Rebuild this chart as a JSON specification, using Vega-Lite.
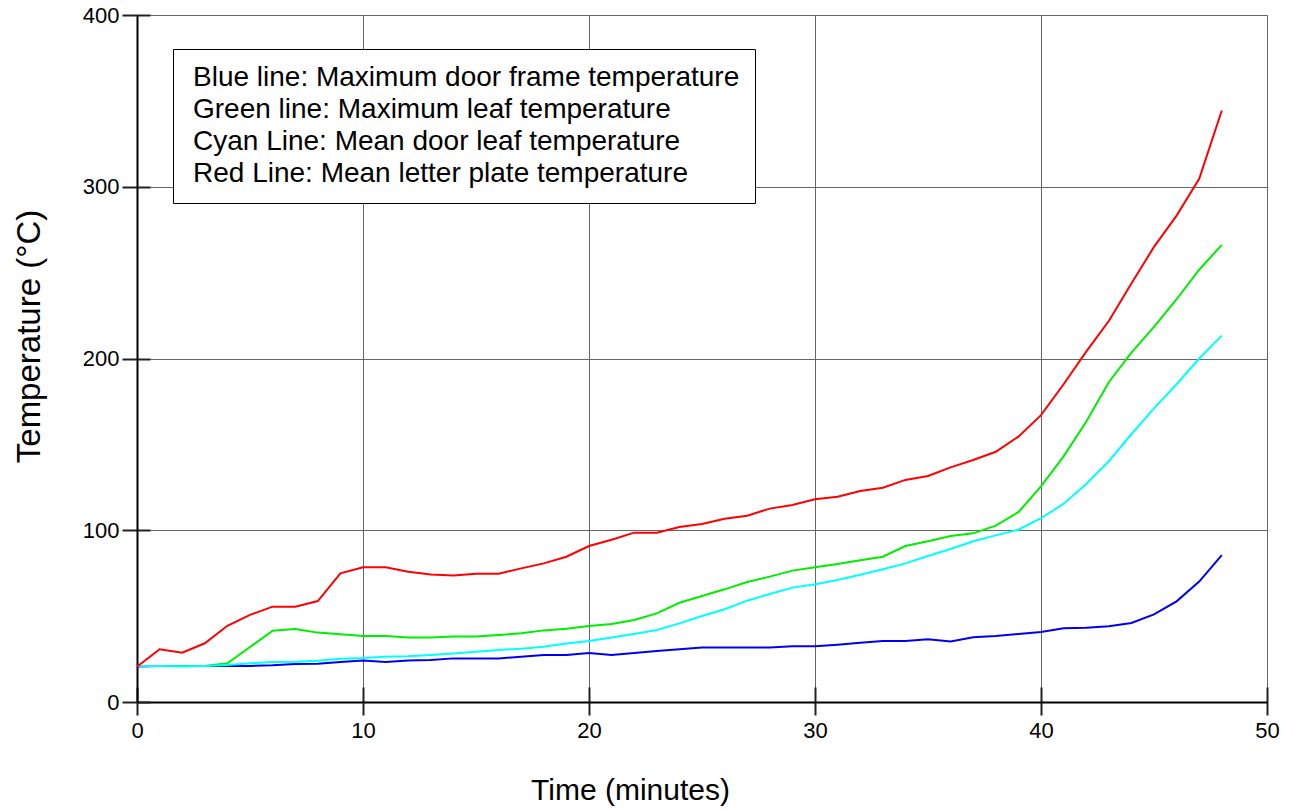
{
  "$schema": "https://vega.github.io/schema/vega-lite/v6.json",
  "width": 1130,
  "height": 687,
  "autosize": {"type": "none"},
  "padding": {"left": 137, "top": 15, "right": 25, "bottom": 109},
  "background": "white",
  "config": {
    "view": {"stroke": null},
    "font": "Liberation Sans",
    "axis": {
      "labelFont": "Liberation Sans",
      "titleFont": "Liberation Sans",
      "labelColor": "black",
      "titleColor": "black",
      "labelFontSize": 22,
      "labelFlush": false,
      "labelOverlap": false,
      "titleFontWeight": "normal",
      "domainColor": "black",
      "domainWidth": 2,
      "tickColor": "#222222",
      "tickWidth": 2,
      "gridColor": "#666666",
      "gridWidth": 1,
      "gridOpacity": 1
    }
  },
  "data": {
    "values": [
      {"t": 0, "blue": 20.6, "green": 21, "cyan": 21, "red": 20.5},
      {"t": 1, "blue": 21, "green": 21, "cyan": 21, "red": 30.7},
      {"t": 2, "blue": 21, "green": 21, "cyan": 20.6, "red": 28.7},
      {"t": 3, "blue": 21, "green": 21, "cyan": 21, "red": 34.2},
      {"t": 4, "blue": 21, "green": 22.5, "cyan": 21.5, "red": 44.4},
      {"t": 5, "blue": 21, "green": 32, "cyan": 22.5, "red": 50.7},
      {"t": 6, "blue": 21.4, "green": 41.5, "cyan": 23.3, "red": 55.5},
      {"t": 7, "blue": 22.1, "green": 42.5, "cyan": 23.5, "red": 55.5},
      {"t": 8, "blue": 22.3, "green": 40.4, "cyan": 24, "red": 58.8},
      {"t": 9, "blue": 23.3, "green": 39.4, "cyan": 25.2, "red": 74.9},
      {"t": 10, "blue": 24.2, "green": 38.4, "cyan": 25.6, "red": 78.4},
      {"t": 11, "blue": 23.3, "green": 38.4, "cyan": 26.4, "red": 78.4},
      {"t": 12, "blue": 24.2, "green": 37.5, "cyan": 26.6, "red": 75.9},
      {"t": 13, "blue": 24.4, "green": 37.5, "cyan": 27.4, "red": 74.3},
      {"t": 14, "blue": 25.4, "green": 38.2, "cyan": 28.3, "red": 73.6},
      {"t": 15, "blue": 25.4, "green": 38.2, "cyan": 29.3, "red": 74.7},
      {"t": 16, "blue": 25.4, "green": 39, "cyan": 30.3, "red": 74.7},
      {"t": 17, "blue": 26.4, "green": 40, "cyan": 31, "red": 77.8},
      {"t": 18, "blue": 27.4, "green": 41.7, "cyan": 32.2, "red": 80.7},
      {"t": 19, "blue": 27.4, "green": 42.7, "cyan": 34, "red": 84.6},
      {"t": 20, "blue": 28.5, "green": 44.3, "cyan": 35.5, "red": 90.8},
      {"t": 21, "blue": 27.4, "green": 45.4, "cyan": 37.5, "red": 94.5},
      {"t": 22, "blue": 28.5, "green": 47.7, "cyan": 39.6, "red": 98.6},
      {"t": 23, "blue": 29.7, "green": 51.6, "cyan": 41.9, "red": 98.6},
      {"t": 24, "blue": 30.7, "green": 57.8, "cyan": 45.8, "red": 101.9},
      {"t": 25, "blue": 31.8, "green": 61.7, "cyan": 50.1, "red": 103.6},
      {"t": 26, "blue": 31.8, "green": 65.6, "cyan": 54, "red": 106.7},
      {"t": 27, "blue": 31.8, "green": 69.9, "cyan": 59, "red": 108.5},
      {"t": 28, "blue": 31.8, "green": 73, "cyan": 62.9, "red": 112.6},
      {"t": 29, "blue": 32.4, "green": 76.5, "cyan": 66.6, "red": 114.7},
      {"t": 30, "blue": 32.4, "green": 78.4, "cyan": 68.5, "red": 118},
      {"t": 31, "blue": 33.4, "green": 80.3, "cyan": 71, "red": 119.5},
      {"t": 32, "blue": 34.5, "green": 82.5, "cyan": 74.1, "red": 122.9},
      {"t": 33, "blue": 35.5, "green": 84.6, "cyan": 77.3, "red": 124.8},
      {"t": 34, "blue": 35.5, "green": 90.8, "cyan": 80.7, "red": 129.3},
      {"t": 35, "blue": 36.5, "green": 93.6, "cyan": 85, "red": 131.6},
      {"t": 36, "blue": 35.3, "green": 96.7, "cyan": 89.1, "red": 136.6},
      {"t": 37, "blue": 37.7, "green": 98.2, "cyan": 93.6, "red": 140.9},
      {"t": 38, "blue": 38.4, "green": 102.7, "cyan": 97, "red": 145.7},
      {"t": 39, "blue": 39.6, "green": 110.5, "cyan": 100.3, "red": 154.5},
      {"t": 40, "blue": 40.8, "green": 125.5, "cyan": 107, "red": 167},
      {"t": 41, "blue": 43, "green": 143, "cyan": 115.4, "red": 185},
      {"t": 42, "blue": 43.2, "green": 163.2, "cyan": 126.9, "red": 204},
      {"t": 43, "blue": 44.1, "green": 186.2, "cyan": 140.2, "red": 221.8},
      {"t": 44, "blue": 46, "green": 203.4, "cyan": 155.9, "red": 243.7},
      {"t": 45, "blue": 51, "green": 218.4, "cyan": 171, "red": 265},
      {"t": 46, "blue": 58.6, "green": 234.5, "cyan": 185, "red": 283.2},
      {"t": 47, "blue": 70.1, "green": 251.7, "cyan": 200, "red": 304.6},
      {"t": 48, "blue": 85.5, "green": 266.2, "cyan": 213.3, "red": 344.4}
    ]
  },
  "transform": [{"fold": ["blue", "green", "cyan", "red"], "as": ["series", "v"]}],
  "layer": [
    {
      "mark": {"type": "line", "opacity": 0},
      "encoding": {
        "x": {
          "field": "t", "type": "quantitative",
          "scale": {"domain": [0, 50], "nice": false},
          "axis": {"orient": "bottom", "values": [0, 10, 20, 30, 40, 50], "tickSize": -15, "labels": false, "domain": false, "grid": false, "title": null}
        },
        "y": {
          "field": "v", "type": "quantitative",
          "scale": {"domain": [0, 400], "nice": false},
          "axis": {"orient": "left", "values": [0, 100, 200, 300, 400], "tickSize": -13, "labels": false, "domain": false, "grid": false, "title": null}
        },
        "detail": {"field": "series"}
      }
    },
    {
      "mark": {"type": "line", "strokeWidth": 2},
      "encoding": {
        "x": {
          "field": "t", "type": "quantitative",
          "scale": {"domain": [0, 50], "nice": false},
          "axis": {"orient": "bottom", "values": [0, 10, 20, 30, 40, 50], "tickSize": 13, "labelPadding": 5, "labelFontSize": 22, "labelFlush": false, "grid": true, "title": "Time (minutes)", "titleFontSize": 30, "titlePadding": 34, "titleX": 493}
        },
        "y": {
          "field": "v", "type": "quantitative",
          "scale": {"domain": [0, 400], "nice": false},
          "axis": {"orient": "left", "values": [0, 100, 200, 300, 400], "tickSize": 15, "labelPadding": 3, "labelFontSize": 22, "labelFlush": false, "grid": true, "title": "Temperature (°C)", "titleFontSize": 33, "titlePadding": 36, "titleY": 321}
        },
        "color": {
          "field": "series", "type": "nominal",
          "scale": {"domain": ["blue", "green", "cyan", "red"], "range": ["#0000ee", "#00ee00", "#00ffff", "#ff0000"]},
          "legend": {
            "orient": "none", "legendX": 36, "legendY": 34, "title": null,
            "symbolSize": 0, "symbolStrokeWidth": 0, "symbolOpacity": 0,
            "labelFont": "Liberation Sans", "labelFontSize": 28, "labelColor": "black",
            "labelOffset": -23, "labelLimit": 900, "rowPadding": 4, "padding": 15,
            "strokeColor": "black", "fillColor": "white",
            "labelExpr": "datum.label == 'blue' ? 'Blue line: Maximum door frame temperature' : datum.label == 'green' ? 'Green line: Maximum leaf temperature' : datum.label == 'cyan' ? 'Cyan Line: Mean door leaf temperature' : 'Red Line: Mean letter plate temperature'"
          }
        }
      }
    }
  ],
  "resolve": {"axis": {"x": "independent", "y": "independent"}}
}
